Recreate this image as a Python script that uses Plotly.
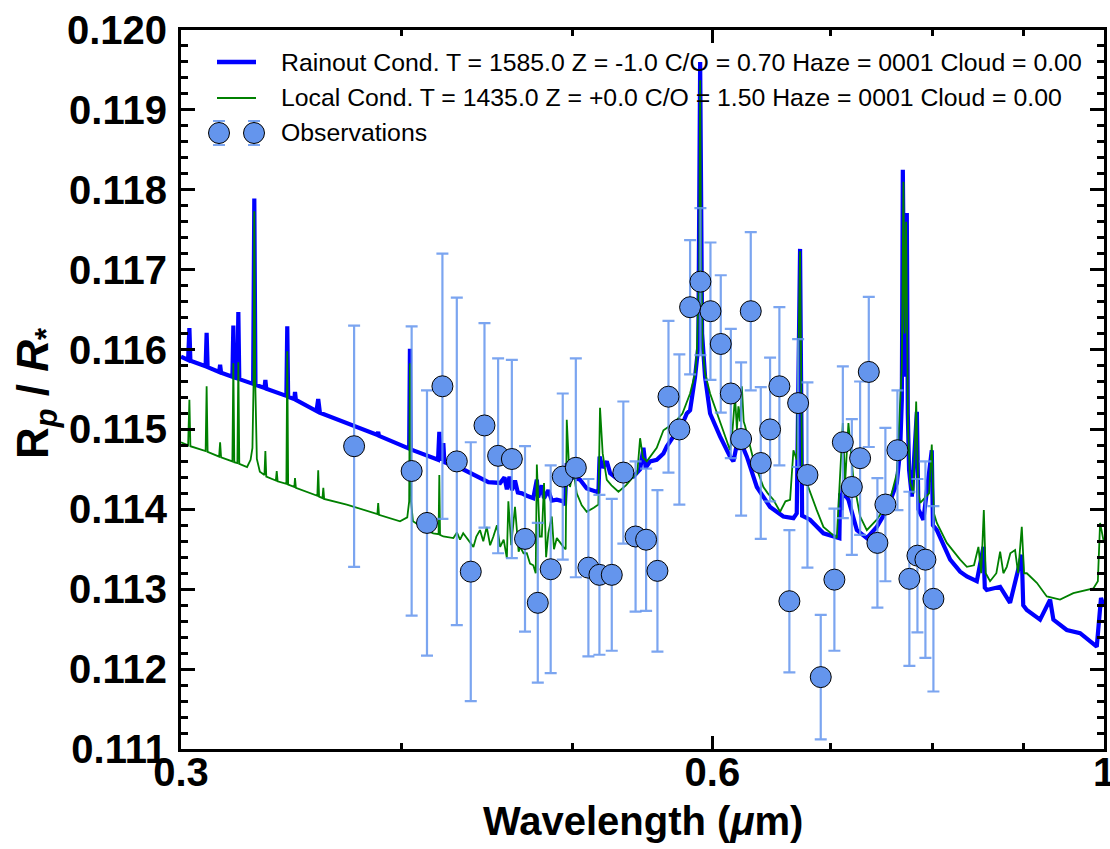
import math
import plotly.graph_objects as go

# ---------------------------------------------------------------- data
# Transit observations: wavelength (micron), Rp/R*, 1-sigma uncertainty
obs_wl = [0.3760, 0.4053, 0.4135, 0.4219, 0.4299, 0.4378, 0.4457, 0.4537, 0.4619, 0.4699,
          0.4778, 0.4859, 0.4936, 0.5021, 0.5104, 0.5178, 0.5262, 0.5342, 0.5428, 0.5503,
          0.5585, 0.5666, 0.5747, 0.5828, 0.5907, 0.5985, 0.6066, 0.6146, 0.6229, 0.6308,
          0.6391, 0.6469, 0.6548, 0.6634, 0.6710, 0.6792, 0.6911, 0.7035, 0.7113, 0.7197,
          0.7275, 0.7358, 0.7441, 0.7519, 0.7638, 0.7758, 0.7840, 0.7922, 0.8005]
obs_rp = [0.11479, 0.11448, 0.11383, 0.11554, 0.11460, 0.11322, 0.11505, 0.11467, 0.11463, 0.11363,
          0.11283, 0.11325, 0.11441, 0.11452, 0.11327, 0.11318, 0.11318, 0.11446, 0.11366, 0.11362,
          0.11323, 0.11541, 0.11500, 0.11653, 0.11685, 0.11648, 0.11607, 0.11545, 0.11488, 0.11648,
          0.11458, 0.11500, 0.11554, 0.11285, 0.11533, 0.11443, 0.11190, 0.11312, 0.11484, 0.11428,
          0.11464, 0.11572, 0.11358, 0.11406, 0.11474, 0.11313, 0.11342, 0.11337, 0.11288]
obs_err = [0.00151, 0.00181, 0.00166, 0.00166, 0.00205, 0.00162, 0.00128, 0.00122, 0.00124, 0.00116,
           0.00100, 0.00130, 0.00104, 0.00137, 0.00111, 0.00100, 0.00095, 0.00089, 0.00094, 0.00089,
           0.00101, 0.00095, 0.00094, 0.00084, 0.00092, 0.00086, 0.00086, 0.00081, 0.00096, 0.00099,
           0.00095, 0.00090, 0.00099, 0.00089, 0.00080, 0.00116, 0.00078, 0.00089, 0.00095, 0.00085,
           0.00096, 0.00094, 0.00081, 0.00096, 0.00075, 0.00109, 0.00096, 0.00123, 0.00116]

# Rainout-condensation model spectrum
rain_wl = [0.3000, 0.3028, 0.3033, 0.3037, 0.3098, 0.3102, 0.3106, 0.3153, 0.3157, 0.3161,
           0.3208, 0.3212, 0.3216, 0.3229, 0.3233, 0.3237, 0.3296, 0.3301, 0.3306, 0.3345,
           0.3349, 0.3353, 0.3442, 0.3446, 0.3450, 0.3478, 0.3481, 0.3485, 0.3580, 0.3588,
           0.3596, 0.3724, 0.3876, 0.3880, 0.3884, 0.4040, 0.4044, 0.4048, 0.4195, 0.4202,
           0.4210, 0.4224, 0.4230, 0.4317, 0.4393, 0.4450, 0.4480, 0.4549, 0.4575, 0.4589,
           0.4605, 0.4620, 0.4638, 0.4655, 0.4680, 0.4710, 0.4750, 0.4772, 0.4780, 0.4803,
           0.4817, 0.4844, 0.4866, 0.4898, 0.4940, 0.4950, 0.4962, 0.4983, 0.5005, 0.5049,
           0.5093, 0.5160, 0.5171, 0.5179, 0.5200, 0.5228, 0.5251, 0.5308, 0.5413, 0.5460,
           0.5484, 0.5500, 0.5532, 0.5580, 0.5629, 0.5654, 0.5702, 0.5753, 0.5803, 0.5828,
           0.5866, 0.5891, 0.5905, 0.5920, 0.5943, 0.5982, 0.6061, 0.6140, 0.6167, 0.6197,
           0.6220, 0.6235, 0.6276, 0.6358, 0.6469, 0.6582, 0.6669, 0.6698, 0.6727, 0.6745,
           0.6815, 0.6935, 0.7057, 0.7081, 0.7088, 0.7100, 0.7113, 0.7134, 0.7165, 0.7244,
           0.7339, 0.7435, 0.7533, 0.7632, 0.7665, 0.7682, 0.7692, 0.7700, 0.7710, 0.7725,
           0.7732, 0.7742, 0.7755, 0.7783, 0.7834, 0.7850, 0.7901, 0.7988, 0.8000, 0.8041,
           0.8182, 0.8289, 0.8362, 0.8471, 0.8545, 0.8560, 0.8582, 0.8733, 0.8847, 0.8983,
           0.9000, 0.9042, 0.9200, 0.9321, 0.9361, 0.9526, 0.9693, 0.9906, 0.9961, 1.0000]
rain_rp = [0.11591, 0.11587, 0.11627, 0.11586, 0.11579, 0.11621, 0.11578, 0.11572, 0.11581, 0.11571,
           0.11566, 0.11630, 0.11565, 0.11564, 0.11647, 0.11563, 0.11557, 0.11789, 0.11556, 0.11552,
           0.11562, 0.11551, 0.11542, 0.11629, 0.11541, 0.11538, 0.11547, 0.11537, 0.11523, 0.11538,
           0.11521, 0.11508, 0.11493, 0.11497, 0.11492, 0.11476, 0.11601, 0.11475, 0.11462, 0.11497,
           0.11461, 0.11483, 0.11459, 0.11452, 0.11443, 0.11437, 0.11434, 0.11433, 0.11440, 0.11425,
           0.11441, 0.11424, 0.11436, 0.11421, 0.11420, 0.11417, 0.11414, 0.11437, 0.11415, 0.11430,
           0.11414, 0.11424, 0.11411, 0.11412, 0.11410, 0.11405, 0.11458, 0.11445, 0.11440, 0.11437,
           0.11426, 0.11422, 0.11420, 0.11466, 0.11452, 0.11460, 0.11445, 0.11437, 0.11441, 0.11450,
           0.11477, 0.11452, 0.11460, 0.11462, 0.11470, 0.11479, 0.11491, 0.11500, 0.11520, 0.11524,
           0.11566, 0.11604, 0.11960, 0.11620, 0.11566, 0.11520, 0.11491, 0.11466, 0.11460, 0.11483,
           0.11475, 0.11481, 0.11466, 0.11428, 0.11403, 0.11391, 0.11389, 0.11395, 0.11726, 0.11392,
           0.11387, 0.11370, 0.11364, 0.11364, 0.11420, 0.11399, 0.11430, 0.11418, 0.11412, 0.11374,
           0.11364, 0.11378, 0.11399, 0.11433, 0.11474, 0.11537, 0.11825, 0.11580, 0.11566, 0.11620,
           0.11771, 0.11520, 0.11449, 0.11416, 0.11522, 0.11400, 0.11387, 0.11474, 0.11380, 0.11374,
           0.11337, 0.11322, 0.11316, 0.11310, 0.11353, 0.11302, 0.11299, 0.11303, 0.11283, 0.11343,
           0.11280, 0.11274, 0.11262, 0.11287, 0.11262, 0.11249, 0.11245, 0.11228, 0.11289, 0.11278]

# Local-condensation model spectrum
local_wl = [0.3000, 0.3028, 0.3033, 0.3037, 0.3098, 0.3102, 0.3106, 0.3153, 0.3157, 0.3161,
            0.3208, 0.3212, 0.3216, 0.3229, 0.3233, 0.3237, 0.3270, 0.3285, 0.3293, 0.3298,
            0.3301, 0.3305, 0.3312, 0.3325, 0.3345, 0.3349, 0.3353, 0.3395, 0.3399, 0.3403,
            0.3442, 0.3446, 0.3450, 0.3478, 0.3481, 0.3485, 0.3584, 0.3588, 0.3592, 0.3608,
            0.3612, 0.3616, 0.3724, 0.3876, 0.3880, 0.3884, 0.3992, 0.4030, 0.4040, 0.4044,
            0.4050, 0.4060, 0.4133, 0.4169, 0.4198, 0.4202, 0.4206, 0.4224, 0.4280, 0.4300,
            0.4317, 0.4335, 0.4393, 0.4410, 0.4431, 0.4450, 0.4470, 0.4490, 0.4509, 0.4530,
            0.4549, 0.4570, 0.4589, 0.4598, 0.4615, 0.4638, 0.4660, 0.4669, 0.4690, 0.4710,
            0.4730, 0.4750, 0.4765, 0.4772, 0.4790, 0.4803, 0.4817, 0.4830, 0.4844, 0.4866,
            0.4880, 0.4898, 0.4940, 0.4955, 0.4962, 0.4983, 0.5005, 0.5027, 0.5060, 0.5093,
            0.5140, 0.5171, 0.5182, 0.5200, 0.5228, 0.5260, 0.5308, 0.5360, 0.5413, 0.5440,
            0.5460, 0.5480, 0.5508, 0.5580, 0.5629, 0.5680, 0.5728, 0.5770, 0.5828, 0.5866,
            0.5879, 0.5898, 0.5905, 0.5912, 0.5925, 0.5943, 0.5982, 0.6061, 0.6140, 0.6160,
            0.6180, 0.6195, 0.6207, 0.6220, 0.6235, 0.6250, 0.6262, 0.6330, 0.6413, 0.6450,
            0.6497, 0.6554, 0.6600, 0.6640, 0.6669, 0.6698, 0.6727, 0.6745, 0.6786, 0.6875,
            0.6935, 0.7057, 0.7081, 0.7113, 0.7134, 0.7165, 0.7212, 0.7275, 0.7339, 0.7435,
            0.7565, 0.7632, 0.7682, 0.7698, 0.7710, 0.7725, 0.7745, 0.7766, 0.7800, 0.7827,
            0.7850, 0.7868, 0.7960, 0.7988, 0.8010, 0.8041, 0.8146, 0.8289, 0.8362, 0.8440,
            0.8489, 0.8520, 0.8549, 0.8570, 0.8619, 0.8690, 0.8733, 0.8770, 0.8809, 0.8850,
            0.8905, 0.8940, 0.8983, 0.9010, 0.9042, 0.9161, 0.9281, 0.9443, 0.9608, 0.9862,
            0.9920, 0.9949, 1.0000]
local_rp = [0.11484, 0.11480, 0.11537, 0.11479, 0.11473, 0.11554, 0.11472, 0.11466, 0.11484, 0.11465,
            0.11460, 0.11583, 0.11459, 0.11458, 0.11584, 0.11457, 0.11453, 0.11462, 0.11477, 0.11560,
            0.11773, 0.11560, 0.11463, 0.11447, 0.11443, 0.11473, 0.11441, 0.11436, 0.11448, 0.11435,
            0.11432, 0.11598, 0.11431, 0.11428, 0.11439, 0.11427, 0.11417, 0.11449, 0.11416, 0.11414,
            0.11427, 0.11413, 0.11406, 0.11394, 0.11408, 0.11393, 0.11385, 0.11390, 0.11410, 0.11583,
            0.11410, 0.11385, 0.11374, 0.11370, 0.11369, 0.11443, 0.11368, 0.11366, 0.11364, 0.11371,
            0.11362, 0.11370, 0.11353, 0.11366, 0.11374, 0.11360, 0.11378, 0.11355, 0.11366, 0.11380,
            0.11353, 0.11362, 0.11339, 0.11410, 0.11355, 0.11403, 0.11347, 0.11353, 0.11345, 0.11345,
            0.11332, 0.11330, 0.11320, 0.11456, 0.11366, 0.11366, 0.11433, 0.11340, 0.11370, 0.11391,
            0.11350, 0.11364, 0.11353, 0.11350, 0.11512, 0.11428, 0.11449, 0.11420, 0.11405, 0.11397,
            0.11402, 0.11406, 0.11527, 0.11470, 0.11437, 0.11430, 0.11422, 0.11430, 0.11441, 0.11445,
            0.11489, 0.11465, 0.11460, 0.11477, 0.11499, 0.11505, 0.11512, 0.11520, 0.11545, 0.11570,
            0.11595, 0.11700, 0.11937, 0.11720, 0.11600, 0.11570, 0.11545, 0.11508, 0.11474, 0.11500,
            0.11541, 0.11500, 0.11529, 0.11510, 0.11554, 0.11510, 0.11504, 0.11462, 0.11428, 0.11420,
            0.11412, 0.11397, 0.11410, 0.11412, 0.11474, 0.11462, 0.11723, 0.11441, 0.11433, 0.11399,
            0.11378, 0.11364, 0.11426, 0.11508, 0.11433, 0.11508, 0.11437, 0.11391, 0.11374, 0.11387,
            0.11412, 0.11445, 0.11579, 0.11810, 0.11620, 0.11760, 0.11500, 0.11433, 0.11420, 0.11535,
            0.11420, 0.11408, 0.11420, 0.11481, 0.11395, 0.11383, 0.11358, 0.11337, 0.11328, 0.11330,
            0.11353, 0.11320, 0.11399, 0.11320, 0.11310, 0.11320, 0.11347, 0.11320, 0.11328, 0.11345,
            0.11349, 0.11320, 0.11378, 0.11320, 0.11320, 0.11308, 0.11291, 0.11287, 0.11295, 0.11301,
            0.11310, 0.11383, 0.11358]

RAIN_LABEL = "Rainout Cond. T = 1585.0 Z = -1.0 C/O = 0.70 Haze = 0001 Cloud = 0.00"
LOCAL_LABEL = "Local Cond. T = 1435.0 Z = +0.0 C/O = 1.50 Haze = 0001 Cloud = 0.00"
OBS_LABEL = "Observations"

X_TICKS = [0.3, 0.6, 1.0]
X_TICK_TEXT = ["0.3", "0.6", "1"]
X_MINOR = [0.4, 0.5, 0.7, 0.8, 0.9]

# ---------------------------------------------------------------- style
W, H = 1110, 849
ML, MR, MT, MB = 181, 6, 30, 100
PW, PH = W - ML - MR, H - MT - MB
FONT = "Liberation Sans, Arial, Helvetica, sans-serif"
BLUE = "#0000FF"
GREEN = "#008000"
OBS = "#6495ED"
OBS_BAR = "rgba(100,149,237,0.85)"


def fx(px):
    """pixel column -> paper x"""
    return (px - ML) / PW


def fy(py):
    """pixel row -> paper y"""
    return (H - MB - py) / PH


fig = go.Figure()

fig.add_trace(go.Scatter(x=rain_wl, y=rain_rp, mode="lines", name=RAIN_LABEL,
                         line=dict(color=BLUE, width=4.2), showlegend=False))
fig.add_trace(go.Scatter(x=local_wl, y=local_rp, mode="lines", name=LOCAL_LABEL,
                         line=dict(color=GREEN, width=1.8), showlegend=False))
fig.add_trace(go.Scatter(
    x=obs_wl, y=obs_rp, mode="markers", name=OBS_LABEL, showlegend=False,
    error_y=dict(type="data", array=obs_err, visible=True, color=OBS_BAR,
                 thickness=2.2, width=6),
    marker=dict(size=21, color=OBS, line=dict(color="black", width=1)),
))

# ---------------------------------------------------------------- legend
shapes = []
ann = []
legend_rows = [(62, RAIN_LABEL), (98, LOCAL_LABEL), (133, OBS_LABEL)]
shapes.append(dict(type="line", xref="paper", yref="paper", x0=fx(217), x1=fx(256),
                   y0=fy(62), y1=fy(62), line=dict(color=BLUE, width=4.5)))
shapes.append(dict(type="line", xref="paper", yref="paper", x0=fx(217), x1=fx(256),
                   y0=fy(98), y1=fy(98), line=dict(color=GREEN, width=2)))
for cx in (219, 254):
    shapes.append(dict(type="line", xref="paper", yref="paper", x0=fx(cx), x1=fx(cx),
                       y0=fy(121), y1=fy(145), line=dict(color=OBS_BAR, width=2)))
    for cy in (121, 145):
        shapes.append(dict(type="line", xref="paper", yref="paper", x0=fx(cx - 6),
                           x1=fx(cx + 6), y0=fy(cy), y1=fy(cy),
                           line=dict(color=OBS_BAR, width=2)))
    shapes.append(dict(type="circle", xref="paper", yref="paper",
                       xsizemode="pixel", ysizemode="pixel",
                       xanchor=fx(cx), yanchor=fy(133), x0=-10.5, x1=10.5,
                       y0=-10.5, y1=10.5, fillcolor=OBS,
                       line=dict(color="black", width=1)))
for py, label in legend_rows:
    ann.append(dict(x=fx(279), y=fy(py), xref="paper", yref="paper", text=label,
                    showarrow=False, xanchor="left", yanchor="middle",
                    font=dict(family=FONT, size=24.8, color="black")))

# axis titles
ann.append(dict(x=fx(643), y=fy(821), xref="paper", yref="paper",
                text="<b>Wavelength (<i>\u03bc</i>m)</b>", showarrow=False,
                xanchor="center", yanchor="middle",
                font=dict(family=FONT, size=40, color="black")))
ann.append(dict(x=fx(36), y=fy(394), xref="paper", yref="paper",
                text="<b>R<sub><i>p</i></sub> / <i>R</i><sub>*</sub></b>",
                showarrow=False, textangle=-90, xanchor="center", yanchor="middle",
                font=dict(family=FONT, size=44, color="black")))

tickfont = dict(family=FONT, size=40, color="black", weight="bold")

fig.update_layout(
    width=W, height=H,
    margin=dict(l=ML, r=MR, t=MT, b=MB, autoexpand=False),
    paper_bgcolor="white", plot_bgcolor="white",
    showlegend=False,
    shapes=shapes, annotations=ann,
    xaxis=dict(type="log", range=[math.log10(0.3), math.log10(1.0)],
               tickmode="array", tickvals=X_TICKS, ticktext=X_TICK_TEXT,
               ticks="inside", ticklen=13, tickwidth=3, tickcolor="black",
               showline=True, linewidth=3, linecolor="black", mirror="ticks",
               showgrid=False, zeroline=False, tickfont=tickfont,
               ticklabelstandoff=-14, ticklabeloverflow="allow",
               minor=dict(tickmode="array", tickvals=X_MINOR, ticks="inside",
                          ticklen=6, tickwidth=3, tickcolor="black", showgrid=False)),
    yaxis=dict(range=[0.111, 0.120], tick0=0.111, dtick=0.001, tickformat=".3f",
               ticks="inside", ticklen=14, tickwidth=3, tickcolor="black",
               showline=True, linewidth=3, linecolor="black", mirror="ticks",
               showgrid=False, zeroline=False, tickfont=tickfont,
               ticklabelstandoff=3, ticklabeloverflow="allow",
               minor=dict(dtick=0.0002, ticks="inside", ticklen=7, tickwidth=2.5,
                          tickcolor="black", showgrid=False)),
)

fig.write_html("out.html")
